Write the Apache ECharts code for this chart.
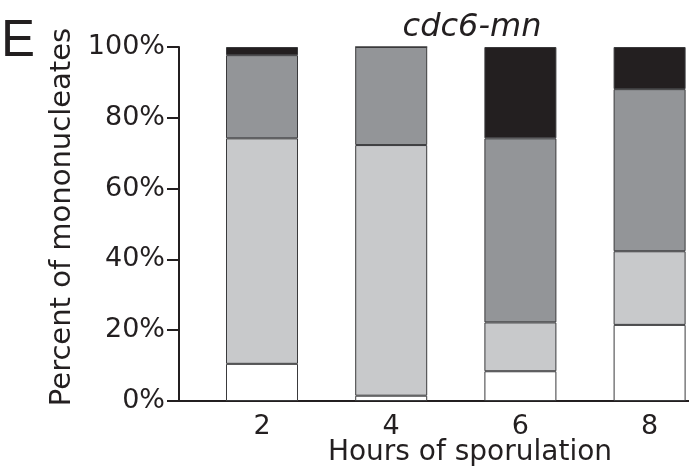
<!DOCTYPE html>
<html>
<head>
<meta charset="utf-8">
<script src="https://cdn.jsdelivr.net/npm/echarts@6/dist/echarts.min.js"></script>
<style>html,body{margin:0;padding:0;background:#fff}#c{width:689px;height:469px}</style>
</head>
<body>
<div id="c"></div>
<script>
const hours = [2, 4, 6, 8];
const yTicks = [0, 20, 40, 60, 80, 100];
const whiteVals = [10.5, 1.5, 8.4, 21.5];
const lightVals = [63.7, 70.8, 13.8, 20.8];
const darkVals = [23.5, 27.7, 52.0, 45.8];
const blackVals = [2.3, 0, 25.8, 11.9];

const seriesDefs = [
  {name: 'white', vals: whiteVals, color: '#ffffff'},
  {name: 'light', vals: lightVals, color: '#c8c9cb'},
  {name: 'dark', vals: darkVals, color: '#939598'},
  {name: 'black', vals: blackVals, color: '#231f20'}
];

const chart = echarts.init(document.getElementById('c'));
const txt = '#231f20';
chart.setOption({
  animation: false,
  backgroundColor: '#fff',
  title: [
    {text: 'cdc6-mn', left: 467, top: 7, textAlign: 'center',
     textStyle: {fontFamily: 'DejaVu Sans', fontStyle: 'italic', fontWeight: 'normal', fontSize: 32, color: txt}},
    {text: 'Hours of sporulation', left: 465, top: 434, textAlign: 'center',
     textStyle: {fontFamily: 'DejaVu Sans', fontWeight: 'normal', fontSize: 28, color: txt}},
    {text: 'E', left: -4, top: 11,
     textStyle: {fontFamily: 'Liberation Sans', fontWeight: 'normal', fontSize: 51, color: txt}}
  ],
  grid: {left: 179, right: 0, top: 47, bottom: 68, containLabel: false},
  xAxis: {
    type: 'value', min: 0.715, max: 8.61,
    axisLine: {show: true, lineStyle: {color: txt, width: 2}},
    axisTick: {show: false},
    splitLine: {show: false},
    axisLabel: {customValues: hours, margin: 12, fontFamily: 'DejaVu Sans', fontSize: 27, color: txt}
  },
  yAxis: {
    type: 'value', min: 0, max: 100, interval: 20,
    name: 'Percent of mononucleates', nameLocation: 'middle', nameRotate: 90, nameGap: 96,
    nameTextStyle: {fontFamily: 'DejaVu Sans', fontSize: 29, color: txt, padding: [0, 0, 0, 14]},
    axisLine: {show: true, lineStyle: {color: txt, width: 2}},
    axisTick: {show: true, length: 12, lineStyle: {color: txt, width: 2}},
    splitLine: {show: false},
    axisLabel: {customValues: yTicks, margin: 14, fontFamily: 'DejaVu Sans', fontSize: 27, color: txt,
      formatter: v => v + '%'}
  },
  series: seriesDefs.map(s => ({
    type: 'bar', name: s.name, stack: 'total', barWidth: 72,
    dimensions: ['pct', 'hour'],
    encode: {x: 1, y: 0},
    itemStyle: {color: s.color, borderColor: '#3a3a3c', borderWidth: 1},
    data: hours.map((h, i) => [s.vals[i], h])
  }))
});
</script>
</body>
</html>
